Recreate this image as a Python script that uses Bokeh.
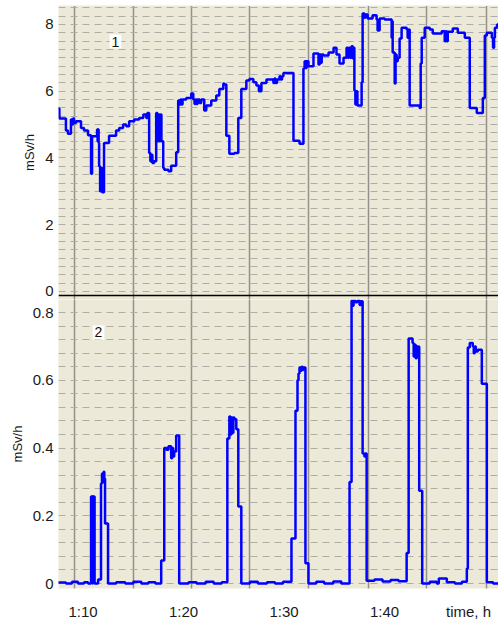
from bokeh.plotting import figure
from bokeh.layouts import column
from bokeh.models import FixedTicker, SingleIntervalTicker, Range1d, Label, Span
from bokeh.embed import file_html
from bokeh.resources import INLINE

# ---------------- data (time in minutes after 0:00, dose rate in mSv/h) ----------------
time_top = [67.5, 67.65, 68.3, 68.5, 68.8, 68.9, 69.0, 69.1, 69.3, 69.8, 70.1, 70.5, 70.8, 70.9,
            71.4, 71.45, 71.5, 71.55, 71.6, 71.7, 71.8, 71.9, 72.0, 72.05, 72.09, 72.59, 73.29,
            73.6, 73.99, 74.3, 74.59, 75.1, 75.58, 76.0, 76.3, 76.4, 76.58, 76.7, 76.78, 76.9,
            77.08, 77.28, 77.4, 77.5, 77.6, 77.7, 77.8, 77.98, 78.08, 78.5, 78.77, 79.27, 79.47,
            79.6, 79.7, 79.8, 79.9, 80.27, 80.77, 80.97, 81.1, 81.2, 81.3, 81.4, 81.6, 81.76,
            82.06, 82.26, 82.76, 83.26, 83.56, 83.96, 84.06, 84.26, 84.56, 85.06, 85.45, 85.75,
            86.25, 86.55, 86.95, 87.25, 87.5, 87.75, 88.25, 88.94, 89.05, 89.15, 89.3, 89.44,
            89.55, 89.65, 89.8, 89.94, 90.94, 91.54, 91.93, 92.05, 92.15, 92.25, 92.43, 92.93,
            93.43, 93.55, 93.65, 93.75, 93.93, 94.43, 94.93, 95.22, 95.52, 95.92, 96.22, 96.35,
            96.45, 96.6, 96.72, 96.85, 96.95, 97.0, 97.1, 97.2, 97.3, 97.72, 97.82, 98.0, 98.1,
            98.32, 98.81, 99.21, 99.31, 99.51, 100.01, 100.71, 100.76, 100.81, 101.01, 101.1,
            101.2, 101.31, 101.5, 101.7, 102.2, 102.3, 102.4, 102.5, 103.5, 103.6, 103.7, 104.0,
            104.5, 104.8, 105.69, 105.99, 106.1, 106.2, 106.29, 106.79, 107.29, 107.99, 108.48,
            109.18, 109.78, 109.98, 110.18, 110.68, 110.8, 110.9, 110.98, 111.2, 111.5]
dose_top = [5.48, 5.18, 4.82, 4.73, 5.15, 5.0, 5.18, 5.05, 5.1, 4.9, 4.82, 4.68, 3.53, 4.65,
            4.85, 4.5, 4.85, 4.45, 3.75, 3.0, 3.7, 2.97, 3.4, 2.97, 4.45, 4.67, 4.82,
            4.9, 5.0, 4.95, 5.1, 5.15, 5.2, 5.3, 5.2, 5.35, 4.15, 3.9, 4.1, 3.85,
            3.9, 5.35, 4.5, 5.3, 4.5, 5.3, 4.5, 3.7, 3.65, 3.6, 3.77, 4.17, 5.72,
            5.6, 5.75, 5.6, 5.75, 5.8, 5.93, 5.75, 5.62, 5.75, 5.62, 5.75, 5.65, 5.75,
            5.42, 5.57, 5.72, 5.87, 6.07, 6.23, 6.2, 4.67, 4.13, 4.15, 5.2, 6.07,
            6.32, 6.37, 6.27, 6.17, 6.0, 6.25, 6.35, 6.25, 6.38, 6.25, 6.35, 6.35,
            6.45, 6.35, 6.45, 6.55, 4.52, 4.43, 6.68, 6.9, 6.7, 6.9, 6.75, 7.13,
            6.8, 7.1, 6.85, 7.1, 7.07, 7.16, 7.3, 7.1, 6.83, 7.0, 7.3, 7.0,
            7.3, 7.0, 7.35, 6.98, 7.3, 6.02, 5.6, 6.0, 5.57, 6.27, 8.33, 8.2, 8.3,
            8.18, 8.28, 8.15, 7.82, 8.18, 8.15, 7.6, 8.1, 7.16, 6.23, 7.1,
            6.9, 7.0, 7.58, 7.9, 7.85, 7.6, 7.85, 5.57, 5.5, 6.83, 7.6, 7.9,
            7.85, 7.73, 7.8, 7.5, 7.8, 7.5, 7.78, 7.88, 7.75, 7.6, 5.5,
            5.35, 5.8, 7.67, 7.75, 7.6, 7.3, 7.6, 7.9, 8.0, 7.95]

time_bot = [67.5, 68.3, 68.9, 69.5, 70.1, 70.5, 70.8, 70.95, 71.0, 71.15, 71.5, 71.79, 71.89,
            71.99, 72.05, 72.12, 72.19, 72.49, 73.3, 74.2, 75.0, 75.8, 76.5, 77.2, 77.78, 78.08,
            78.3, 78.5, 78.77, 78.87, 78.97, 79.07, 79.27, 79.57, 80.5, 81.3, 82.2, 83.0, 83.8,
            84.36, 84.56, 84.66, 84.76, 84.86, 84.96, 85.06, 85.25, 85.45, 85.75, 86.6, 87.4,
            88.3, 89.1, 89.9, 90.74, 91.14, 91.34, 91.44, 91.54, 91.65, 91.75, 91.85, 91.93,
            92.13, 92.43, 93.2, 94.0, 94.9, 95.7, 96.52, 96.72, 96.82, 96.92, 97.1, 97.3, 97.52,
            97.65, 97.82, 98.0, 98.1, 98.22, 99.0, 99.8, 100.6, 101.4, 102.2, 102.4, 102.79,
            102.9, 103.0, 103.1, 103.2, 103.3, 103.39, 103.45, 103.75, 104.5, 105.2, 105.4,
            106.2, 107.0, 107.7, 108.19, 108.29, 108.48, 108.78, 108.88, 108.98, 109.08,
            109.28, 109.68, 110.18, 110.8, 111.5]
dose_bot = [0.003, 0.0, 0.005, 0.0, 0.004, 0.0, 0.257, 0.0, 0.257, 0.0, 0.012, 0.295, 0.325,
            0.30, 0.33, 0.31, 0.177, 0.0, 0.004, 0.0, 0.005, 0.0, 0.004, 0.0, 0.068, 0.40,
            0.395, 0.405, 0.37, 0.40, 0.375, 0.39, 0.437, 0.0, 0.004, 0.0, 0.005, 0.0, 0.004,
            0.428, 0.493, 0.44, 0.49, 0.445, 0.49, 0.485, 0.455, 0.227, 0.0, 0.005, 0.0,
            0.004, 0.0, 0.005, 0.133, 0.51, 0.60, 0.62, 0.638, 0.628, 0.64, 0.63, 0.638,
            0.06, 0.0, 0.005, 0.0, 0.006, 0.0, 0.30, 0.835, 0.82, 0.835, 0.83, 0.835, 0.822,
            0.833, 0.384, 0.375, 0.384, 0.008, 0.012, 0.006, 0.01, 0.007, 0.09, 0.723, 0.71,
            0.67, 0.705, 0.665, 0.70, 0.67, 0.70, 0.274, 0.0, 0.005, 0.0, 0.015,
            0.004, 0.0, 0.005, 0.044, 0.697, 0.71, 0.70, 0.68, 0.70, 0.685,
            0.69, 0.59, 0.004, 0.0, 0.003]

x_tick_values = [70, 80, 90, 100, 108.36]
x_tick_labels = ["1:10", "1:20", "1:30", "1:40", "time, h"]
grid_times = [69.15, 75.02, 80.80, 86.57, 92.39, 98.36, 104.13, 110.10]
top_ticks = [0, 2, 4, 6, 8]
bot_ticks = [0, 0.2, 0.4, 0.6, 0.8]
bot_tick_labels = ["0", "0.2", "0.4", "0.6", "0.8"]
panel_names = ["1", "2"]

# ---------------- styling ----------------
FONT = "Liberation Sans"
BG = "#ECE9D8"
BLUE = "#0000ff"

x_range = Range1d(67.56, 111.34)
top_y = Range1d(-0.24, 8.569)
bot_y = Range1d(-0.01476, 0.8384)


def style_common(p, minor_step):
    p.ygrid.ticker = SingleIntervalTicker(interval=minor_step)
    p.ygrid.grid_line_color = "#aeaea6"
    p.ygrid.grid_line_dash = "7 5"
    p.ygrid.grid_line_width = 1
    p.xgrid.ticker = FixedTicker(ticks=grid_times)
    p.xgrid.grid_line_color = "#3c3c3c"
    p.xgrid.grid_line_dash = "1 1"
    p.xgrid.grid_line_width = 1.5
    ax = p.yaxis[0]
    ax.axis_line_color = None
    ax.major_tick_line_color = None
    ax.minor_tick_line_color = None
    ax.major_tick_out = 0
    ax.major_tick_in = 0
    ax.minor_tick_out = 0
    ax.minor_tick_in = 0
    ax.major_label_standoff = 5
    ax.major_label_text_font = FONT
    ax.major_label_text_font_size = "15px"
    ax.major_label_text_color = "#1a1a1a"
    ax.axis_label = "mSv/h"
    ax.axis_label_standoff = 5
    ax.axis_label_text_font = FONT
    ax.axis_label_text_font_size = "13px"
    ax.axis_label_text_font_style = "normal"
    ax.axis_label_text_color = "#1a1a1a"


p1 = figure(width=498, height=299, x_range=x_range, y_range=top_y,
            x_axis_location=None, output_backend="svg", toolbar_location=None,
            min_border_left=58, min_border_right=0, min_border_top=5, min_border_bottom=0,
            background_fill_color=BG, border_fill_color="white", outline_line_color=None)
style_common(p1, 0.25)
p1.yaxis[0].ticker = FixedTicker(ticks=top_ticks)
p1.step(time_top, dose_top, mode="after", line_color=BLUE, line_width=2.5)
p1.add_layout(Span(location=-0.12, dimension="width", line_color="black", line_width=1.5))
p1.add_layout(Label(x=73.23, y=7.49, text=panel_names[0], text_align="center",
                    text_baseline="middle", text_font=FONT, text_font_size="14px",
                    text_color="#111111", background_fill_color="white", padding=2))

p2 = figure(width=498, height=323, x_range=x_range, y_range=bot_y,
            output_backend="svg", toolbar_location=None,
            min_border_left=58, min_border_right=0, min_border_top=0, min_border_bottom=34,
            background_fill_color=BG, border_fill_color="white", outline_line_color=None)
style_common(p2, 0.04)
p2.yaxis[0].ticker = FixedTicker(ticks=bot_ticks)
p2.yaxis[0].major_label_overrides = {t: s for t, s in zip(bot_ticks, bot_tick_labels)}
xa = p2.xaxis[0]
xa.ticker = FixedTicker(ticks=x_tick_values)
xa.major_label_overrides = {t: s for t, s in zip(x_tick_values, x_tick_labels)}
xa.axis_line_color = None
xa.major_tick_line_color = None
xa.minor_tick_line_color = None
xa.major_tick_out = 0
xa.major_tick_in = 0
xa.minor_tick_out = 0
xa.minor_tick_in = 0
xa.major_label_standoff = 14
xa.major_label_text_font = FONT
xa.major_label_text_font_size = "15px"
xa.major_label_text_color = "#1a1a1a"
p2.step(time_bot, dose_bot, mode="after", line_color=BLUE, line_width=2.5)
p2.add_layout(Label(x=71.54, y=0.741, text=panel_names[1], text_align="center",
                    text_baseline="middle", text_font=FONT, text_font_size="14px",
                    text_color="#111111", background_fill_color="white", padding=2))

layout = column(p1, p2, spacing=0)
open("out.html", "w").write(file_html(layout, INLINE))
